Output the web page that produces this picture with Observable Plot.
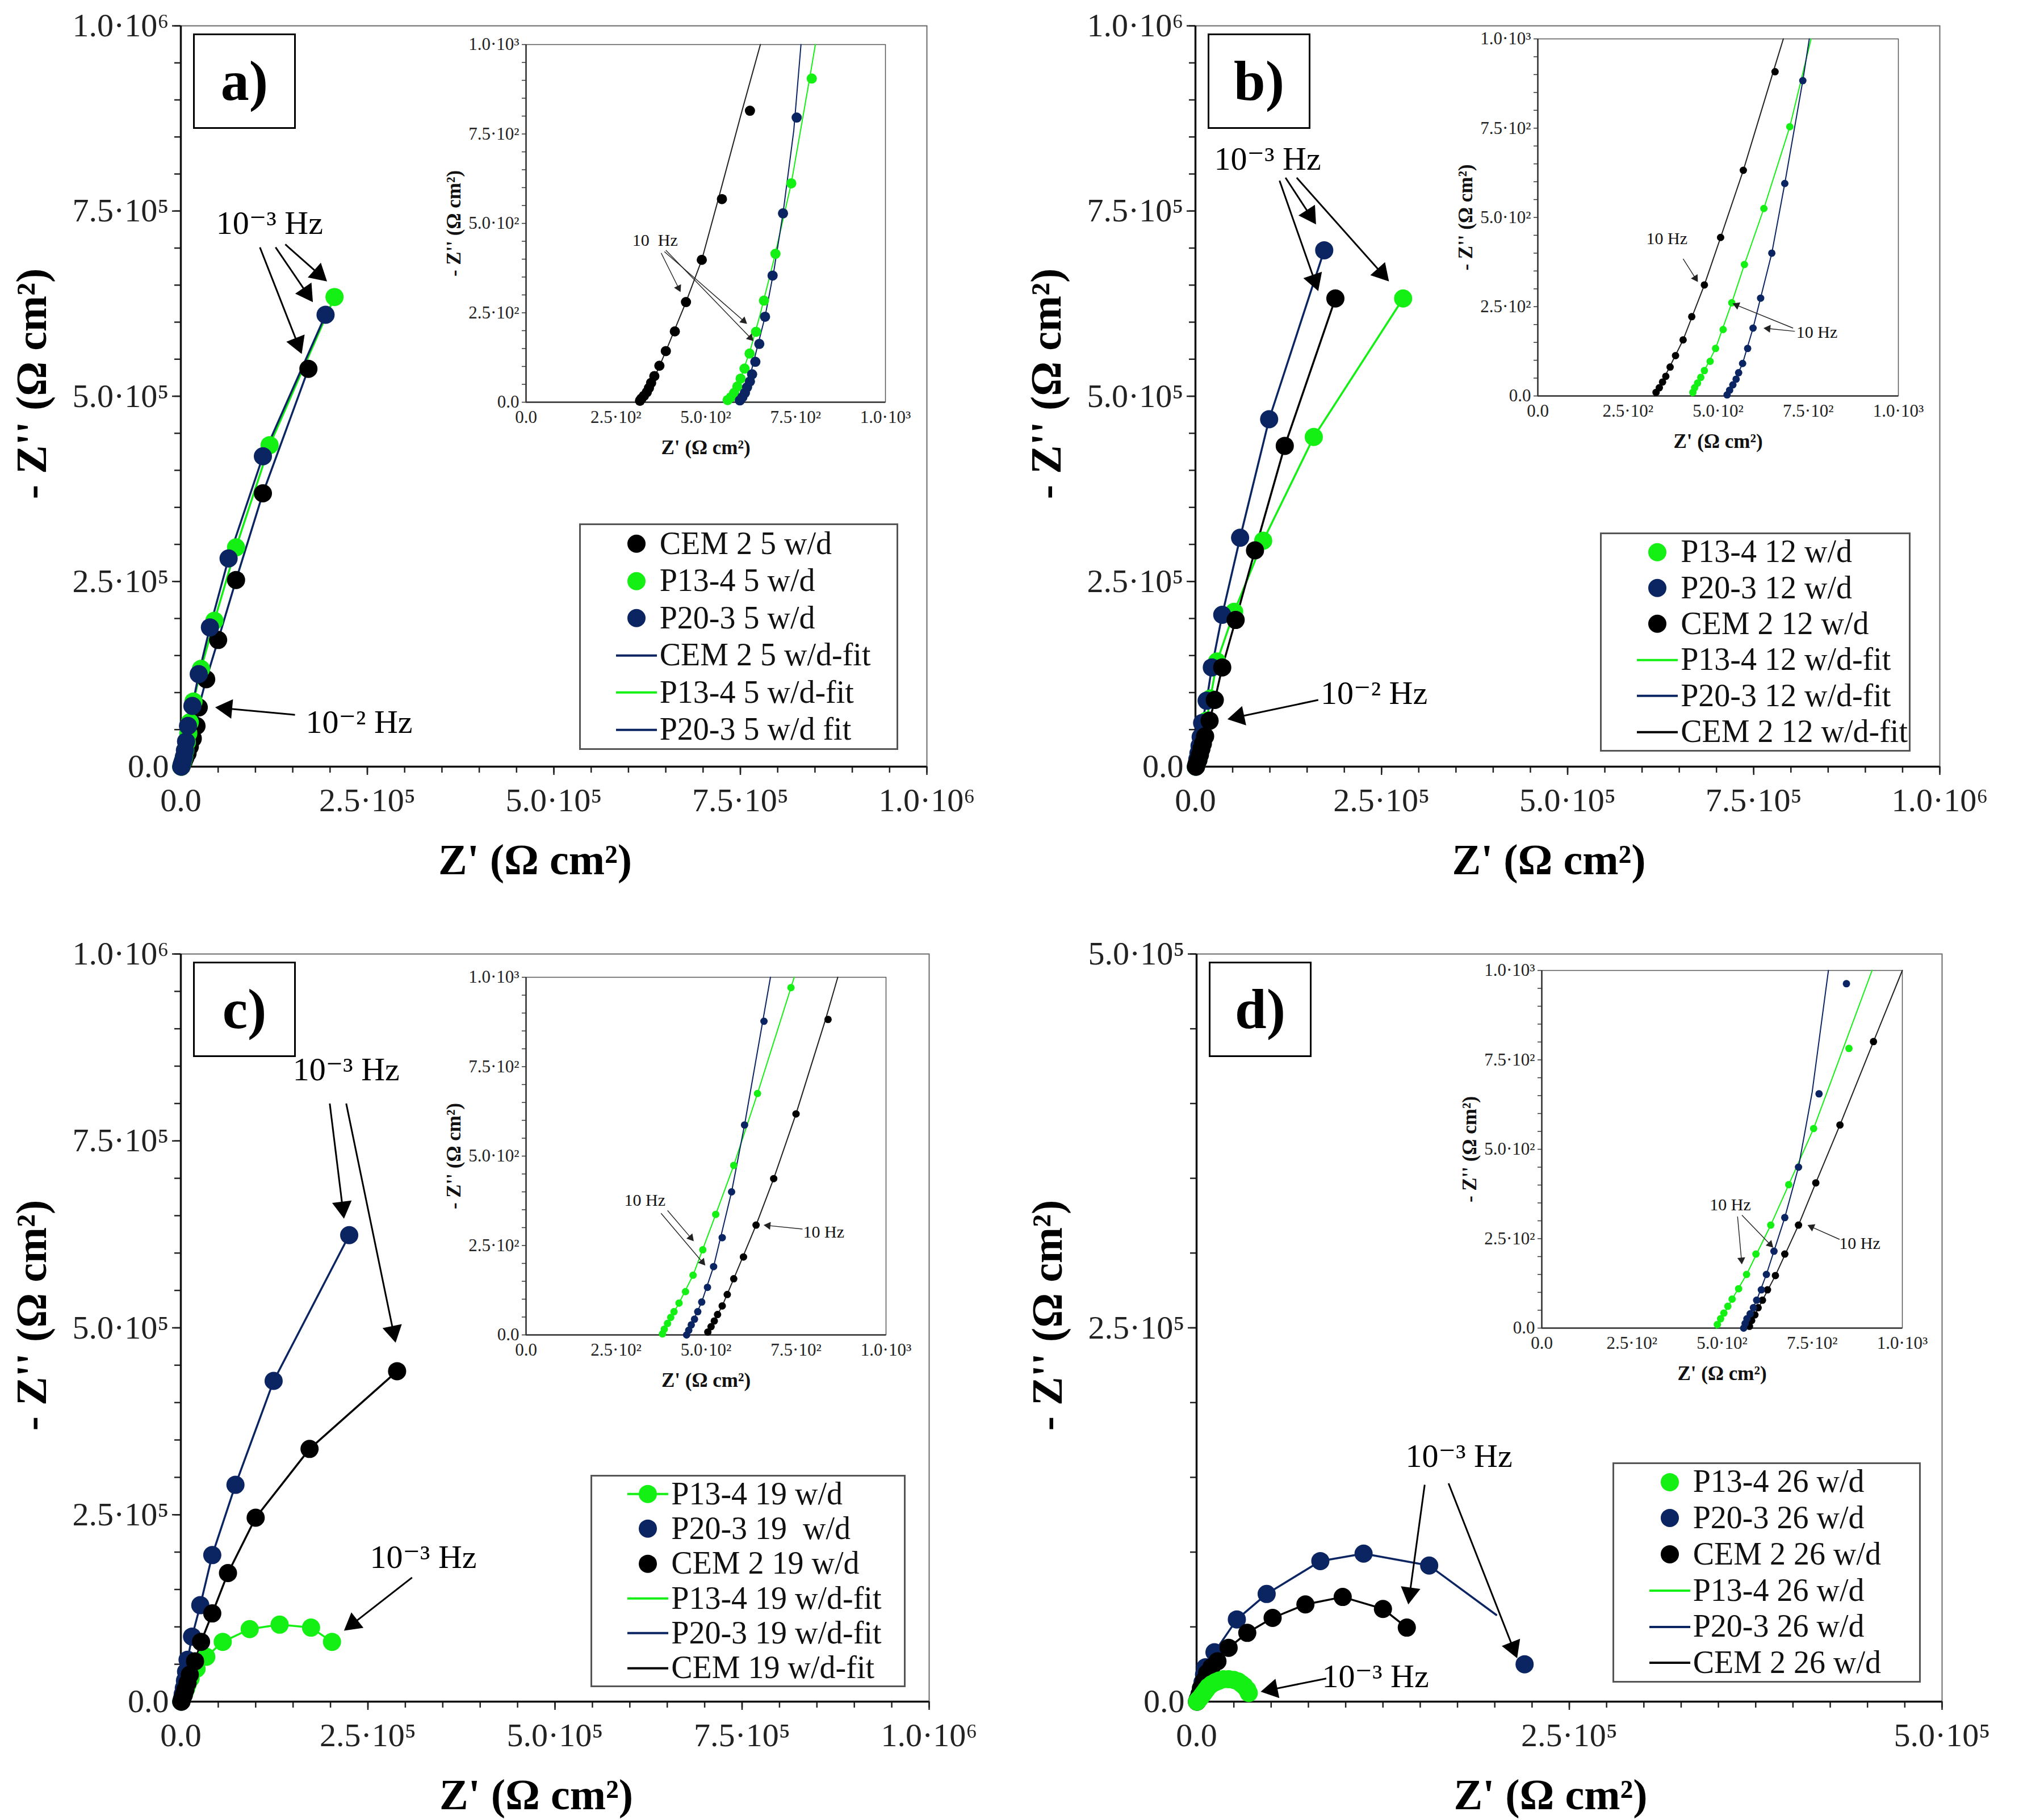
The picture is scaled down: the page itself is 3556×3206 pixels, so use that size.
<!DOCTYPE html>
<html>
<head>
<meta charset="utf-8">
<script src="https://cdn.jsdelivr.net/npm/d3@7"></script>
<script src="https://cdn.jsdelivr.net/npm/@observablehq/plot@0.6"></script>
<style>
  body { margin: 0; background: #fff; }
  #fig { position: relative; width: 3556px; height: 3206px; background: #fff; overflow: hidden; font-family: "Liberation Serif", "DejaVu Serif", serif; }
  .abs { position: absolute; }
  .legend { position: absolute; border: 3px solid #555; background: #fff; box-sizing: border-box; }
  .row { position: absolute; left: 0; right: 0; }
  .row span { position: absolute; left: 139px; top: 50%; transform: translateY(-52%); font-size: 56px; color: #111; white-space: pre; line-height: 1; font-family: "Liberation Serif", serif; }
  .row svg { position: absolute; left: 0; top: 0; }
  .tag { position: absolute; border: 3px solid #000; box-sizing: border-box; font-weight: bold; font-size: 100px; display: flex; align-items: center; justify-content: center; background: #fff; line-height: 1; font-family: "Liberation Serif", serif; }
</style>
</head>
<body>
<div id="fig"></div>
<script>
// ---------- colours ----------
const GREEN = "#14f014", NAVY = "#0b2462", BLACK = "#000000";

// ---------- tick labels ----------
const mainTicks1e6 = [0, 250000, 500000, 750000, 1000000];
const mainTickLabels1e6 = ["0.0", "2.5·10⁵", "5.0·10⁵", "7.5·10⁵", "1.0·10⁶"];
const mainTicks5e5 = [0, 250000, 500000];
const mainTickLabels5e5 = ["0.0", "2.5·10⁵", "5.0·10⁵"];
const insetTicks = [0, 250, 500, 750, 1000];
const insetTickLabels = ["0.0", "2.5·10²", "5.0·10²", "7.5·10²", "1.0·10³"];

const xTitle = "Z' (Ω cm²)";
const yTitle = "- Z'' (Ω cm²)";

// ---------- panel a (main, values in 10^3 Ω cm²) ----------
const aCEM = [[0.8,0],[2,3],[4,7],[6,12],[9,18],[12,27],[16,38],[21,55],[24,80],[34,118],[50,171],[74,252],[110,369],[171,537]];
const aP13 = [[0.5,0],[1.5,3],[3,7],[4.5,13],[6,22],[8,33],[10,45],[12,60],[17,88],[27,132],[45,197],[74,296],[119,434],[206,634]];
const aP20 = [[0.5,0],[1.2,3],[2.5,7],[4,13],[5.5,22],[7,34],[9.6,55],[15.5,82],[24,125],[39,188],[64,281],[110,419],[194,610]];
const aNotes = [[119,733,"10⁻³ Hz"],[239,60,"10⁻² Hz"]];
const aArrows = [[106,701,162,557],[127,701,177,627],[140,705,196,655],[153,70,46,80]];

// ---------- panel a (inset, Ω cm²) ----------
const aiCEM = [[317,4],[321,10],[328,18],[336,28],[342,40],[348,54],[357,73],[371,102],[389,143],[414,198],[445,280],[489,398],[545,568],[623,815]];
const aiCEMfit = [[312,0],[330,20],[360,75],[390,145],[445,280],[489,398],[535,568],[601,815],[652,1000]];
const aiP13 = [[561,6],[570,14],[579,26],[588,44],[597,66],[608,94],[622,136],[640,197],[662,284],[694,415],[738,612],[795,905]];
const aiP13fit = [[555,0],[575,20],[600,75],[625,150],[650,240],[690,400],[738,612],[789,905],[805,1000]];
const aiP20 = [[595,5],[602,14],[609,26],[615,42],[623,58],[629,78],[638,113],[649,163],[665,239],[686,354],[715,528],[753,796]];
const aiP20fit = [[592,0],[605,20],[620,60],[640,140],[665,239],[690,370],[715,528],[745,760],[765,1000]];
const aiNotes = [[359,453,"10  Hz"]];
const aiArrows = [[376,417,430,308],[385,421,615,219],[389,425,633,171]];

// ---------- panel b (main) ----------
const bP13 = [[0.5,0],[2,4],[4,10],[6,20],[8,30],[11,42],[15,62],[20,92],[29,142],[52,209],[91,305],[159,445],[279,632]];
const bP20 = [[0.5,0],[1.5,4],[2.5,10],[4,18],[5.5,28],[7,40],[9,59],[15,89],[22,134],[36,205],[60,309],[99,469],[173,697]];
const bCEM = [[0.8,0],[2,4],[4,9],[6,16],[8,24],[10,31],[13,41],[19,62],[26,90],[36,134],[54,198],[80,292],[120,433],[188,632]];
const bNotes = [[97,820,"10⁻³ Hz"],[240,99,"10⁻² Hz"]];
const bArrows = [[113,791,165,642],[121,795,162,732],[136,795,260,655],[165,90,43,64]];

// ---------- panel b (inset) ----------
const biCEM = [[328,10],[337,23],[346,39],[355,55],[367,81],[382,113],[403,157],[427,222],[462,311],[507,444],[570,632],[658,908]];
const biCEMfit = [[323,0],[340,30],[365,80],[403,157],[462,311],[507,444],[570,632],[653,908],[681,1000]];
const biP13 = [[430,10],[435,23],[443,36],[452,52],[462,71],[478,97],[493,133],[514,186],[538,261],[573,368],[627,525],[699,754]];
const biP13fit = [[427,0],[440,30],[462,71],[493,133],[538,261],[573,368],[627,525],[699,754],[758,1000]];
const biP20 = [[525,3],[532,16],[541,31],[550,47],[557,65],[568,91],[582,133],[597,190],[618,274],[649,400],[685,595],[735,883]];
const biP20fit = [[523,0],[540,30],[568,91],[597,190],[649,400],[685,595],[735,883],[753,1000]];
const biNotes = [[358,441,"10 Hz"],[774,178,"10 Hz"]];
const biArrows = [[403,384,444,319],[708,190,540,259],[713,181,626,190]];

// ---------- panel c (main) ----------
const cP13 = [[0.5,0],[1.5,3],[3,7],[5,12],[7,17],[9,23],[13,31],[21,44],[34,60],[56,80],[92,97],[132,103],[174,99],[202,80]];
const cP20 = [[0.5,0],[1.5,4],[2.5,10],[4,18],[5.5,28],[7,40],[9,56],[15,87],[26,129],[42,196],[73,290],[124,429],[225,624]];
const cCEM = [[0.8,0],[2,4],[4,9],[6,16],[9,25],[12,36],[19,54],[27,80],[42,118],[63,172],[100,246],[172,338],[289,442]];
const cNotes = [[221,845,"10⁻³ Hz"],[324,193,"10⁻³ Hz"]];
const cArrows = [[199,800,218,646],[221,800,287,480],[309,166,218,95]];

// ---------- panel c (inset) ----------
const ciP13 = [[379,3],[384,16],[393,32],[402,49],[411,65],[425,89],[443,121],[464,167],[491,238],[527,337],[577,474],[643,675],[736,971]];
const ciP13fit = [[376,0],[395,35],[425,89],[464,167],[527,337],[577,474],[643,675],[745,1000]];
const ciP20 = [[446,0],[452,13],[459,28],[468,44],[477,65],[488,92],[504,133],[521,191],[545,272],[571,400],[607,587],[661,877]];
const ciP20fit = [[444,0],[460,30],[488,92],[521,191],[571,400],[607,587],[679,1000]];
const ciCEM = [[505,8],[514,23],[523,39],[532,57],[545,81],[559,113],[577,157],[604,218],[639,307],[688,437],[750,618],[839,882]];
const ciCEMfit = [[502,0],[520,35],[545,81],[577,157],[639,307],[688,437],[750,618],[832,882],[866,1000]];
const ciNotes = [[330,377,"10 Hz"],[827,288,"10 Hz"]];
const ciArrows = [[393,348,466,262],[375,340,498,194],[768,296,660,307]];

// ---------- panel d (main) ----------
const dP20 = [[0.3,0],[1,2],[2,5],[3,9],[4,13],[5,18],[6,23],[12,33],[27,55],[47,72],[83,94],[112,99],[156,91],[220,25]];
const dP20fit = [[0.3,0],[1,2],[2,5],[3,9],[4,13],[5,18],[6,23],[12,33],[27,55],[47,72],[83,94],[112,99],[156,91],[201,58]];
const dCEM = [[0.3,0],[1,2],[2,5],[3,9],[5,14],[7,19],[10,23],[14,27],[21.5,36],[34,46],[51,56],[73,65],[98,70],[125,62],[141,49.5]];
const dP13 = [[0.3,0],[1,1],[2,2],[3.5,4],[5,6],[6.5,8],[8,10],[10,11.6],[12.5,13],[15,14],[18,15],[21.5,15],[25,14.5],[28,13.5],[30,12],[32,10.4],[34,8],[35,5.8]];
const dNotes = [[176,164,"10⁻³ Hz"],[120,16.6,"10⁻³ Hz"]];
const dArrows = [[153,145,142,65],[169,146,215,29],[87,15.5,43,6.6]];

// ---------- panel d (inset) ----------
const diP13 = [[487,10],[496,26],[505,42],[516,61],[528,81],[546,110],[568,150],[594,207],[635,288],[685,401],[754,558],[852,782]];
const diP13fit = [[484,0],[500,30],[528,81],[568,150],[635,288],[685,401],[754,558],[916,1000]];
const diP20 = [[560,0],[564,13],[569,26],[578,40],[587,57],[596,78],[609,107],[623,150],[644,215],[674,309],[712,450],[769,655],[845,963]];
const diP20fit = [[558,0],[575,35],[596,78],[623,150],[674,309],[712,450],[750,660],[795,1000]];
const diCEM = [[576,5],[582,21],[591,37],[600,57],[612,78],[626,107],[648,147],[674,207],[712,288],[760,406],[827,568],[920,801]];
const diCEMfit = [[573,0],[590,35],[612,78],[648,147],[712,288],[760,406],[827,568],[920,801],[1000,1000]];
const diNotes = [[523,345,"10 Hz"],[882,236,"10 Hz"]];
const diArrows = [[543,312,555,178],[555,316,642,225],[826,248,737,288]];

// ---------- legends ----------
const legA = [["CEM 2 5 w/d","dot",BLACK],["P13-4 5 w/d","dot",GREEN],["P20-3 5 w/d","dot",NAVY],["CEM 2 5 w/d-fit","line",NAVY],["P13-4 5 w/d-fit","line",GREEN],["P20-3 5 w/d fit","line",NAVY]];
const legB = [["P13-4 12 w/d","dot",GREEN],["P20-3 12 w/d","dot",NAVY],["CEM 2 12 w/d","dot",BLACK],["P13-4 12 w/d-fit","line",GREEN],["P20-3 12 w/d-fit","line",NAVY],["CEM 2 12 w/d-fit","line",BLACK]];
const legC = [["P13-4 19 w/d","both",GREEN],["P20-3 19  w/d","dot",NAVY],["CEM 2 19 w/d","dot",BLACK],["P13-4 19 w/d-fit","line",GREEN],["P20-3 19 w/d-fit","line",NAVY],["CEM 19 w/d-fit","line",BLACK]];
const legD = [["P13-4 26 w/d","dot",GREEN],["P20-3 26 w/d","dot",NAVY],["CEM 2 26 w/d","dot",BLACK],["P13-4 26 w/d","line",GREEN],["P20-3 26 w/d","line",NAVY],["CEM 2 26 w/d","line",BLACK]];

// ---------- layout ----------
const panels = [
  { tag: "a)", ox: 0, oy: 0, L: 318, R: 1632, T: 45, B: 1350, xMax: 1e6, yMax: 1e6, xStep: 5e4, yStep: 5e4,
    xT: mainTicks1e6, xTL: mainTickLabels1e6, yT: mainTicks1e6, yTL: mainTickLabels1e6,
    series: [{pts: aCEM, fit: aCEM, c: BLACK, lc: NAVY}, {pts: aP13, fit: aP13, c: GREEN, lc: GREEN}, {pts: aP20, fit: aP20, c: NAVY, lc: NAVY}],
    notes: aNotes, arrows: aArrows, legend: legA, leg: [0.534, 0.962, 0.672, 0.978],
    inset: { box: [0.463, 0.945, 0.025, 0.508], r: 9,
      series: [{pts: aiCEM, fit: aiCEMfit, c: BLACK}, {pts: aiP13, fit: aiP13fit, c: GREEN}, {pts: aiP20, fit: aiP20fit, c: NAVY}],
      notes: aiNotes, arrows: aiArrows } },
  { tag: "b)", ox: 1778, oy: 0, L: 2105, R: 3416, T: 45, B: 1350, xMax: 1e6, yMax: 1e6, xStep: 5e4, yStep: 5e4,
    xT: mainTicks1e6, xTL: mainTickLabels1e6, yT: mainTicks1e6, yTL: mainTickLabels1e6,
    series: [{pts: bP13, fit: bP13, c: GREEN, lc: GREEN}, {pts: bP20, fit: bP20, c: NAVY, lc: NAVY}, {pts: bCEM, fit: bCEM, c: BLACK, lc: BLACK}],
    notes: bNotes, arrows: bArrows, legend: legB, leg: [0.544, 0.961, 0.684, 0.98],
    inset: { box: [0.46, 0.944, 0.018, 0.50], r: 6.5,
      series: [{pts: biCEM, fit: biCEMfit, c: BLACK}, {pts: biP13, fit: biP13fit, c: GREEN}, {pts: biP20, fit: biP20fit, c: NAVY}],
      notes: biNotes, arrows: biArrows } },
  { tag: "c)", ox: 0, oy: 1603, L: 318, R: 1636, T: 1680, B: 2997, xMax: 1e6, yMax: 1e6, xStep: 5e4, yStep: 5e4,
    xT: mainTicks1e6, xTL: mainTickLabels1e6, yT: mainTicks1e6, yTL: mainTickLabels1e6,
    series: [{pts: cP13, fit: cP13, c: GREEN, lc: GREEN}, {pts: cP20, fit: cP20, c: NAVY, lc: NAVY}, {pts: cCEM, fit: cCEM, c: BLACK, lc: BLACK}],
    notes: cNotes, arrows: cArrows, legend: legC, leg: [0.548, 0.969, 0.697, 0.981],
    inset: { box: [0.461, 0.942, 0.031, 0.509], r: 6.5,
      series: [{pts: ciCEM, fit: ciCEMfit, c: BLACK}, {pts: ciP13, fit: ciP13fit, c: GREEN}, {pts: ciP20, fit: ciP20fit, c: NAVY}],
      notes: ciNotes, arrows: ciArrows } },
  { tag: "d)", ox: 1778, oy: 1603, L: 2107, R: 3420, T: 1680, B: 2997, xMax: 5e5, yMax: 5e5, xStep: 2.5e4, yStep: 5e4,
    xT: mainTicks5e5, xTL: mainTickLabels5e5, yT: mainTicks5e5, yTL: mainTickLabels5e5,
    series: [{pts: dP20, fit: dP20fit, c: NAVY, lc: NAVY}, {pts: dCEM, fit: dCEM, c: BLACK, lc: BLACK}, {pts: dP13, fit: dP13, c: GREEN, lc: GREEN}],
    notes: dNotes, arrows: dArrows, legend: legD, leg: [0.558, 0.972, 0.68, 0.975],
    inset: { box: [0.463, 0.947, 0.022, 0.50], r: 6.5,
      series: [{pts: diCEM, fit: diCEMfit, c: BLACK}, {pts: diP13, fit: diP13fit, c: GREEN}, {pts: diP20, fit: diP20fit, c: NAVY}],
      notes: diNotes, arrows: diArrows } }
];

const FONT = '"Liberation Serif", "DejaVu Serif", serif';
const fmtFrom = (ticks, labels) => d => {
  const i = ticks.findIndex(t => Math.abs(t - d) < 1e-6 * Math.max(1, Math.abs(t)));
  return i >= 0 ? labels[i] : "";
};

const fig = document.getElementById("fig");
function place(el, left, top) {
  const w = document.createElement("div");
  w.className = "abs";
  w.style.left = left + "px";
  w.style.top = top + "px";
  w.appendChild(el);
  fig.appendChild(w);
}

// arrow = shaft (link) + filled triangular head (dot, rotated along the shaft in screen space)
function arrowMarks(arrows, K, kx, ky, headH, sw, color) {
  const yh = headH / 3;                    // d3.symbolTriangle: tip at 2*yh from centre, base at yh
  const r = Math.sqrt(yh * yh * 3 * Math.sqrt(3) / Math.PI);
  const geo = arrows.map(([x1, y1, x2, y2]) => {
    const px = (x2 - x1) * K * kx, py = -(y2 - y1) * K * ky;
    const l = Math.hypot(px, py), ux = px / l, uy = py / l;
    const cx = x2 * K - ux * 2 * yh / kx, cy = y2 * K + uy * 2 * yh / ky;
    return {x1: x1 * K, y1: y1 * K, cx, cy, rot: Math.atan2(ux, -uy) * 180 / Math.PI};
  });
  return [
    Plot.link(geo, {x1: "x1", y1: "y1", x2: "cx", y2: "cy", stroke: color, strokeWidth: sw}),
    Plot.dot(geo, {x: "cx", y: "cy", rotate: "rot", symbol: "triangle", r, fill: color, stroke: "none"})
  ];
}

function mainPlot(p) {
  const K = 1000;
  const W = 1778, H = 1603;
  const fw = p.R - p.L, fh = p.B - p.T;
  const marks = [
    Plot.frame({stroke: "#6a6a6a", strokeWidth: 2}),
    Plot.axisX({ticks: d3.range(0, p.xMax + 1, p.xStep), tickSize: 11, tickPadding: 26, stroke: "#222", strokeWidth: 2.5,
      fontSize: 58, fontFamily: FONT, fill: "#222", tickFormat: fmtFrom(p.xT, p.xTL), label: null}),
    Plot.axisX({ticks: p.xT, tickSize: 15, stroke: "#222", strokeWidth: 2.5, tickFormat: () => "", label: null}),
    Plot.axisY({ticks: d3.range(0, p.yMax + 1, p.yStep), tickSize: 11, tickPadding: 10, stroke: "#222", strokeWidth: 2.5,
      fontSize: 58, fontFamily: FONT, fill: "#222", tickFormat: fmtFrom(p.yT, p.yTL), label: null}),
    Plot.axisY({ticks: p.yT, tickSize: 15, stroke: "#222", strokeWidth: 2.5, tickFormat: () => "", label: null}),
    Plot.ruleX([0], {stroke: "#111", strokeWidth: 3.5}),
    Plot.ruleY([0], {stroke: "#111", strokeWidth: 3.5})
  ];
  for (const s of p.series)
    marks.push(Plot.line(s.fit, {x: d => d[0] * K, y: d => d[1] * K, stroke: s.lc, strokeWidth: 3.5}));
  for (const s of p.series)
    marks.push(Plot.dot(s.pts, {x: d => d[0] * K, y: d => d[1] * K, r: 16, fill: s.c, stroke: "none"}));
  marks.push(...arrowMarks(p.arrows, K, fw / p.xMax, fh / p.yMax, 30, 3, "#000"));
  marks.push(Plot.text(p.notes, {x: d => d[0] * K, y: d => d[1] * K, text: d => d[2], fontSize: 58, fontFamily: FONT, fill: "#000"}));
  marks.push(Plot.text([xTitle], {text: d => d, frameAnchor: "bottom", textAnchor: "middle", lineAnchor: "middle",
    dy: 165, dx: -33, fontSize: 76, fontFamily: FONT, fontWeight: "bold", fill: "#000"}));
  marks.push(Plot.text([yTitle], {text: d => d, frameAnchor: "left", textAnchor: "middle", lineAnchor: "middle",
    dx: -262, dy: -22, rotate: -90, fontSize: 76, fontFamily: FONT, fontWeight: "bold", fill: "#000"}));
  return Plot.plot({
    width: W, height: H,
    marginLeft: p.L - p.ox, marginRight: p.ox + W - p.R,
    marginTop: p.T - p.oy, marginBottom: p.oy + H - p.B,
    x: {domain: [0, p.xMax]}, y: {domain: [0, p.yMax]},
    style: {fontFamily: FONT, background: "transparent", overflow: "visible", maxWidth: "none"},
    marks
  });
}

function insetPlot(p) {
  const fw = p.R - p.L, fh = p.B - p.T;
  const [fx0, fx1, fy0, fy1] = p.inset.box;
  const x0 = p.L + fx0 * fw, x1 = p.L + fx1 * fw, y0 = p.T + fy0 * fh, y1 = p.T + fy1 * fh;
  const iw = Math.round(x1 - x0), ih = Math.round(y1 - y0);
  const mL = 170, mR = 50, mT = 25, mB = 115;
  const ins = p.inset;
  const marks = [
    Plot.frame({stroke: "#555", strokeWidth: 1.5}),
    Plot.axisY({ticks: d3.range(0, 1001, 50), tickSize: 7, tickPadding: 5, stroke: "#333", strokeWidth: 1.5,
      fontSize: 31, fontFamily: FONT, fill: "#222", tickFormat: fmtFrom(insetTicks, insetTickLabels), label: null}),
    Plot.axisX({ticks: insetTicks, tickSize: 0, tickPadding: 14, fontSize: 31, fontFamily: FONT, fill: "#222",
      tickFormat: fmtFrom(insetTicks, insetTickLabels), label: null}),
    Plot.ruleX([0], {stroke: "#333", strokeWidth: 2.5}),
    Plot.ruleY([0], {stroke: "#333", strokeWidth: 2.5})
  ];
  for (const s of ins.series)
    marks.push(Plot.line(s.fit, {x: d => d[0], y: d => d[1], stroke: s.c === BLACK ? "#222" : s.c, strokeWidth: 2}));
  for (const s of ins.series)
    marks.push(Plot.dot(s.pts, {x: d => d[0], y: d => d[1], r: ins.r, fill: s.c, stroke: "none"}));
  marks.push(...arrowMarks(ins.arrows, 1, iw / 1000, ih / 1000, 12, 1.4, "#222"));
  marks.push(Plot.text(ins.notes, {x: d => d[0], y: d => d[1], text: d => d[2], fontSize: 30, fontFamily: FONT, fill: "#111"}));
  marks.push(Plot.text([xTitle], {text: d => d, frameAnchor: "bottom", textAnchor: "middle", lineAnchor: "middle",
    dy: 80, fontSize: 35, fontFamily: FONT, fontWeight: "bold", fill: "#111"}));
  marks.push(Plot.text([yTitle], {text: d => d, frameAnchor: "left", textAnchor: "middle", lineAnchor: "middle",
    dx: -127, rotate: -90, fontSize: 35, fontFamily: FONT, fontWeight: "bold", fill: "#111"}));
  const plot = Plot.plot({
    width: iw + mL + mR, height: ih + mT + mB,
    marginLeft: mL, marginRight: mR, marginTop: mT, marginBottom: mB,
    x: {domain: [0, 1000]}, y: {domain: [0, 1000]},
    style: {fontFamily: FONT, background: "transparent", overflow: "visible", maxWidth: "none"},
    marks
  });
  place(plot, Math.round(x0) - mL, Math.round(y0) - mT);
}

function legend(p) {
  const fw = p.R - p.L, fh = p.B - p.T;
  const [fx0, fx1, fy0, fy1] = p.leg;
  const box = document.createElement("div");
  box.className = "legend";
  const w = (fx1 - fx0) * fw, h = (fy1 - fy0) * fh;
  box.style.left = (p.L + fx0 * fw) + "px";
  box.style.top = (p.T + fy0 * fh) + "px";
  box.style.width = w + "px";
  box.style.height = h + "px";
  const rowH = (h - 6) / p.legend.length;
  p.legend.forEach(([label, kind, color], i) => {
    const row = document.createElement("div");
    row.className = "row";
    row.style.top = (i * rowH) + "px";
    row.style.height = rowH + "px";
    const svg = d3.create("svg").attr("width", 140).attr("height", rowH);
    if (kind === "line" || kind === "both")
      svg.append("line").attr("x1", 62).attr("x2", 134).attr("y1", rowH / 2).attr("y2", rowH / 2)
        .attr("stroke", color).attr("stroke-width", 4);
    if (kind === "dot" || kind === "both")
      svg.append("circle").attr("cx", 98).attr("cy", rowH / 2).attr("r", 16).attr("fill", color);
    row.appendChild(svg.node());
    const span = document.createElement("span");
    span.textContent = label;
    row.appendChild(span);
    box.appendChild(row);
  });
  fig.appendChild(box);
}

function tagBox(p) {
  const t = document.createElement("div");
  t.className = "tag";
  t.textContent = p.tag;
  t.style.left = (p.L + 22) + "px";
  t.style.top = (p.T + 14) + "px";
  t.style.width = "181px";
  t.style.height = "168px";
  fig.appendChild(t);
}

for (const p of panels) {
  place(mainPlot(p), p.ox, p.oy);
  insetPlot(p);
  legend(p);
  tagBox(p);
}
</script>
</body>
</html>
